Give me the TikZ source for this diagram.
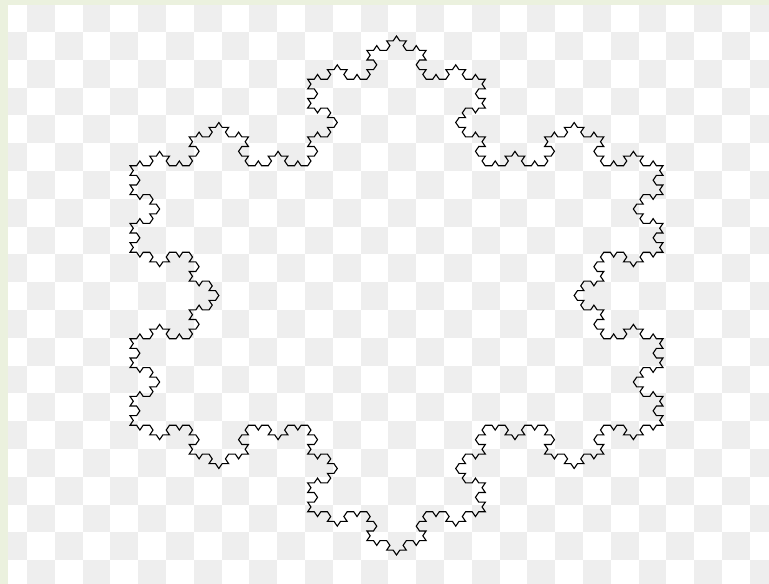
\documentclass[tikz,border=0pt]{standalone}
\definecolor{stripgreen}{HTML}{EBF1DE}
\definecolor{checkgray}{HTML}{EEEEEE}
\newcount\ka \newcount\kb \newcount\kd
\def\kochmove{%
  \ifcase\kd \global\advance\ka 1
  \or \global\advance\kb 1
  \or \global\advance\ka -1 \global\advance\kb 1
  \or \global\advance\ka -1
  \or \global\advance\kb -1
  \or \global\advance\ka 1 \global\advance\kb -1
  \fi
  \pgfpathlineto{\pgfpoint{396.5pt+6.58pt*((\the\ka)+0.5*(\the\kb))}{-36pt+4.8055pt*(\the\kb)}}%
}
\def\kturn#1{\global\advance\kd #1\relax
  \ifnum\kd<0 \global\advance\kd 6 \fi
  \ifnum\kd>5 \global\advance\kd -6 \fi}
\def\koch#1{%
  \ifnum#1=0 \kochmove
  \else
    \expandafter\kochrec\expandafter{\the\numexpr#1-1\relax}%
  \fi}
\def\kochrec#1{\koch{#1}\kturn{1}\koch{#1}\kturn{-2}\koch{#1}\kturn{1}\koch{#1}}
\tikzset{checksq/.style={fill=checkgray}}
\begin{document}
\begin{tikzpicture}[x=1pt,y=-1pt]
\useasboundingbox (0,0) rectangle (769,584);
\fill[stripgreen] (0,0) rectangle (769,584);
\fill[white] (8,5) rectangle (769,584);
\begin{scope}
\clip (8,5) rectangle (769,584);
\foreach \c in {-1,...,26}{
  \foreach \r in {-1,...,19}{
    \ifodd\numexpr\c+\r+2\relax
      \fill[checksq] ({27+27.8*\c},{32+27.8*\r}) rectangle ({27+27.8*(\c+1)},{32+27.8*(\r+1)});
    \fi
  }
}
\end{scope}
\begin{pgfscope}
\global\ka=0 \global\kb=0 \global\kd=5
\pgfpathmoveto{\pgfpoint{396.5pt}{-36pt}}
\koch{4}\kturn{-2}\koch{4}\kturn{-2}\koch{4}
\pgfpathclose
\pgfsetlinewidth{1.1pt}
\pgfsetcolor{black}
\pgfsetmiterjoin
\pgfusepath{stroke}
\end{pgfscope}
\end{tikzpicture}
\end{document}
